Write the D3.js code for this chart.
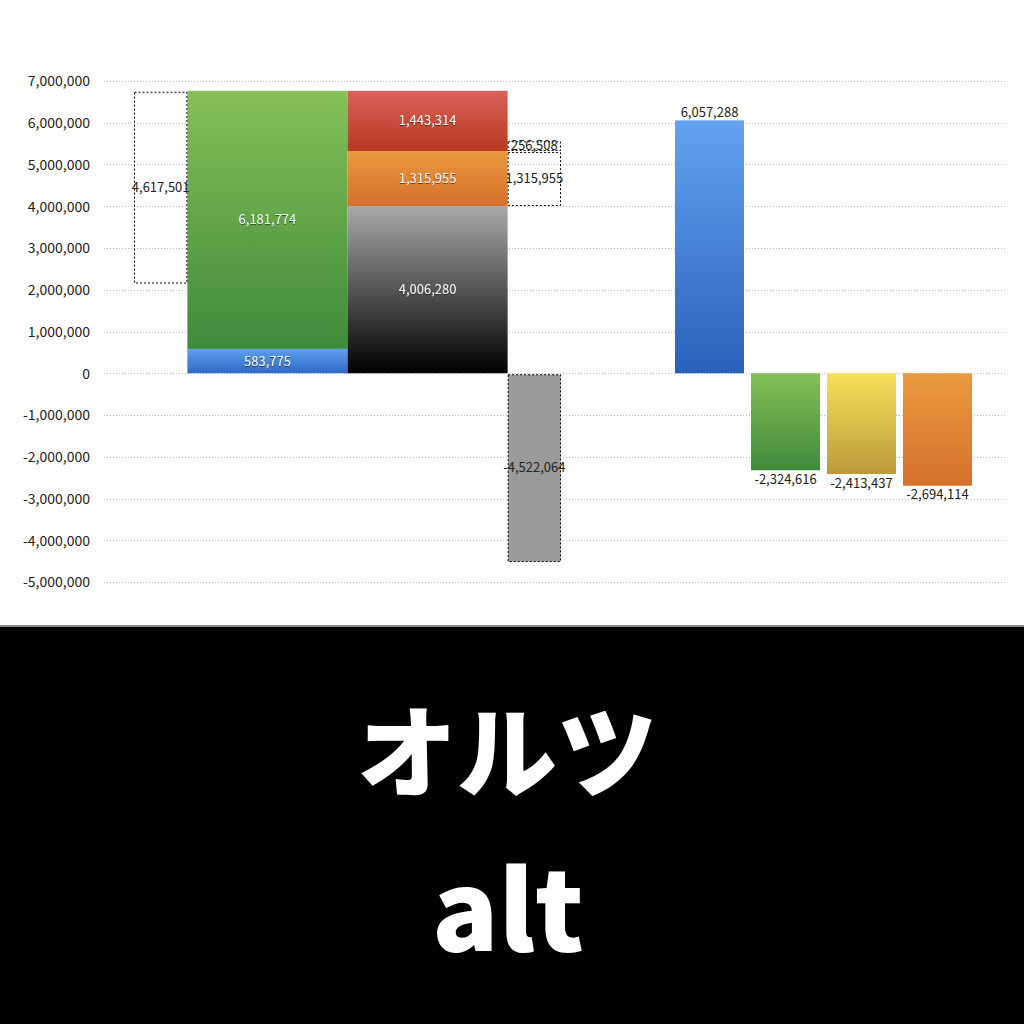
<!DOCTYPE html>
<html>
<head>
<meta charset="utf-8">
<script src="https://cdn.jsdelivr.net/npm/d3@7"></script>
<style>
  html, body { margin: 0; padding: 0; background: #fff; }
  svg { display: block; }
  text { font-family: "Noto Sans CJK JP", "Noto Sans", sans-serif; }
</style>
</head>
<body>
<svg id="chart" width="1024" height="1024"></svg>
<script>
// values
var incomeParts = [583775, 6181774];            // blue, green (stacked)
var costParts = [4006280, 1315955, 1443314];    // black, orange, red (stacked)
var leftDiff = 4617501;                         // dotted box left of the stacks
var rightDiffs = [1315955, 256508];             // dotted boxes right of the stacks
var lossValue = -4522064;                       // grey dotted bar
var sideKeys = ["a", "b", "c", "d"];
var sideValues = [6057288, -2324616, -2413437, -2694114];
var yTicks = [7000000, 6000000, 5000000, 4000000, 3000000, 2000000, 1000000, 0,
              -1000000, -2000000, -3000000, -4000000, -5000000];
var titleJa = "オルツ";
var titleEn = "alt";

var svg = d3.select("#chart");

var locale = d3.formatLocale({decimal: ".", thousands: ",", grouping: [3], currency: ["", ""], minus: "-"});
var fmt = locale.format(",");

var y = d3.scaleLinear().domain([-5000000, 7000000]).range([582, 81]);

// left block: 1 + 3 + 3 + 1 slot widths
var xl = d3.scaleLinear().domain([0, 8]).range([134, 561]);
// right block
var xr = d3.scaleBand().domain(sideKeys).range([675, 972]).paddingInner(0.092);

// gradients
var defs = svg.append("defs");
function grad(id, top, bottom) {
    var g = defs.append("linearGradient").attr("id", id)
        .attr("x1", 0).attr("y1", 0).attr("x2", 0).attr("y2", 1);
    g.append("stop").attr("offset", "0%").attr("stop-color", top);
    g.append("stop").attr("offset", "100%").attr("stop-color", bottom);
}
grad("gBlue", "#5e9ff0", "#3069c6");
grad("gGreen", "#86c057", "#3f8a3b");
grad("gBlack", "#a9a9a9", "#000000");
grad("gOrange", "#e99a3e", "#d5702c");
grad("gRed", "#da625b", "#b83820");
grad("gBigBlue", "#63a3f0", "#2a61bb");
grad("gYellow", "#f6e158", "#bb9a3a");
var f = defs.append("filter").attr("id", "shadow");
f.append("feDropShadow").attr("dx", 0).attr("dy", 0.8).attr("stdDeviation", 0.6)
    .attr("flood-color", "#000").attr("flood-opacity", 0.6);

// grid
svg.append("g").selectAll("line").data(yTicks).join("line")
    .attr("x1", 104).attr("x2", 1006)
    .attr("y1", function(d) { return Math.round(y(d)) + 0.5; })
    .attr("y2", function(d) { return Math.round(y(d)) + 0.5; })
    .attr("stroke", "#bdbdbd").attr("stroke-width", 1).attr("stroke-dasharray", "1,2");

// y axis
var yAxis = svg.append("g")
    .attr("transform", "translate(90,0)")
    .call(d3.axisLeft(y).tickValues(yTicks).tickSize(0).tickPadding(0).tickFormat(fmt));
yAxis.select(".domain").remove();
yAxis.selectAll("text")
    .style("font-family", "'Noto Sans CJK JP', sans-serif")
    .attr("font-size", 14).attr("fill", "#222").attr("dy", "0.35em");

var plot = svg.append("g");

function stack(values) {
    var acc = 0;
    return values.map(function(v) { var s = {v: v, y0: acc, y1: acc + v}; acc += v; return s; });
}
var incomeStack = stack(incomeParts);
var costStack = stack(costParts);
var total = incomeStack[incomeStack.length - 1].y1;

// stacked bar 1
var incomeFill = ["url(#gBlue)", "url(#gGreen)"];
plot.selectAll(".inc").data(incomeStack).join("rect")
    .attr("class", "inc")
    .attr("x", xl(1)).attr("width", xl(4) - xl(1))
    .attr("y", function(d) { return y(d.y1); })
    .attr("height", function(d) { return y(d.y0) - y(d.y1); })
    .attr("fill", function(d, i) { return incomeFill[i]; });

// stacked bar 2
var costFill = ["url(#gBlack)", "url(#gOrange)", "url(#gRed)"];
plot.selectAll(".cost").data(costStack).join("rect")
    .attr("class", "cost")
    .attr("x", xl(4)).attr("width", xl(7) - xl(4))
    .attr("y", function(d) { return y(d.y1); })
    .attr("height", function(d) { return y(d.y0) - y(d.y1); })
    .attr("fill", function(d, i) { return costFill[i]; });

// inside labels
function inLabel(data, x0, x1) {
    plot.selectAll(null).data(data).join("text")
        .attr("x", (xl(x0) + xl(x1)) / 2)
        .attr("y", function(d) { return (y(d.y0) + y(d.y1)) / 2; })
        .attr("dy", "0.35em").attr("text-anchor", "middle")
        .attr("font-size", 13).attr("fill", "#f4f4f4")
        .attr("filter", "url(#shadow)")
        .text(function(d) { return fmt(d.v); });
}
inLabel(incomeStack, 1, 4);
inLabel(costStack, 4, 7);

// dotted boxes
function dottedBox(x0, x1, v0, v1, fill) {
    plot.append("rect")
        .attr("x", x0 + 0.5).attr("width", x1 - x0 - 1)
        .attr("y", Math.min(y(v0), y(v1)) + 1.5)
        .attr("height", Math.abs(y(v0) - y(v1)) - 2)
        .attr("fill", fill).attr("stroke", "#000")
        .attr("stroke-width", 1).attr("stroke-dasharray", "2,2");
}
function outLabel(x, yy, v) {
    plot.append("text")
        .attr("x", x).attr("y", yy).attr("dy", "0.35em")
        .attr("text-anchor", "middle").attr("font-size", 13).attr("fill", "#222")
        .text(fmt(v));
}

dottedBox(xl(0), xl(1), total - leftDiff, total, "none");
outLabel((xl(0) + xl(1)) / 2, (y(total - leftDiff) + y(total)) / 2, leftDiff);

var base = costStack[0].y1;
rightDiffs.forEach(function(v) {
    dottedBox(xl(7), xl(8), base, base + v, "none");
    outLabel((xl(7) + xl(8)) / 2, (y(base) + y(base + v)) / 2, v);
    base += v;
});

dottedBox(xl(7), xl(8), 0, lossValue, "#9a9a9a");
outLabel((xl(7) + xl(8)) / 2, (y(0) + y(lossValue)) / 2, lossValue);

// right bars
var sideFill = ["url(#gBigBlue)", "url(#gGreen)", "url(#gYellow)", "url(#gOrange)"];
plot.selectAll(".side").data(sideValues).join("rect")
    .attr("class", "side")
    .attr("x", function(d, i) { return xr(sideKeys[i]); })
    .attr("width", xr.bandwidth())
    .attr("y", function(d) { return y(Math.max(0, d)); })
    .attr("height", function(d) { return Math.abs(y(d) - y(0)); })
    .attr("fill", function(d, i) { return sideFill[i]; });

plot.selectAll(".sideLbl").data(sideValues).join("text")
    .attr("class", "sideLbl")
    .attr("x", function(d, i) { return xr(sideKeys[i]) + xr.bandwidth() / 2; })
    .attr("y", function(d) { return d >= 0 ? y(d) - 8 : y(d) + 9; })
    .attr("dy", "0.35em").attr("text-anchor", "middle")
    .attr("font-size", 13).attr("fill", "#222")
    .text(function(d) { return fmt(d); });

// bottom banner
svg.append("rect").attr("x", 0).attr("y", 625).attr("width", 1024).attr("height", 3).attr("fill", "#8a8a8a");
svg.append("rect").attr("x", 0).attr("y", 627).attr("width", 1024).attr("height", 397).attr("fill", "#000");
svg.append("text").attr("x", 507).attr("y", 755).attr("dy", "0.35em")
    .attr("text-anchor", "middle").attr("font-size", 100).attr("font-weight", 900)
    .attr("fill", "#fff").text(titleJa);
svg.append("text").attr("x", 508).attr("y", 912).attr("dy", "0.35em")
    .attr("text-anchor", "middle").attr("font-size", 110).attr("font-weight", 900)
    .attr("fill", "#fff").text(titleEn);
</script>
</body>
</html>
